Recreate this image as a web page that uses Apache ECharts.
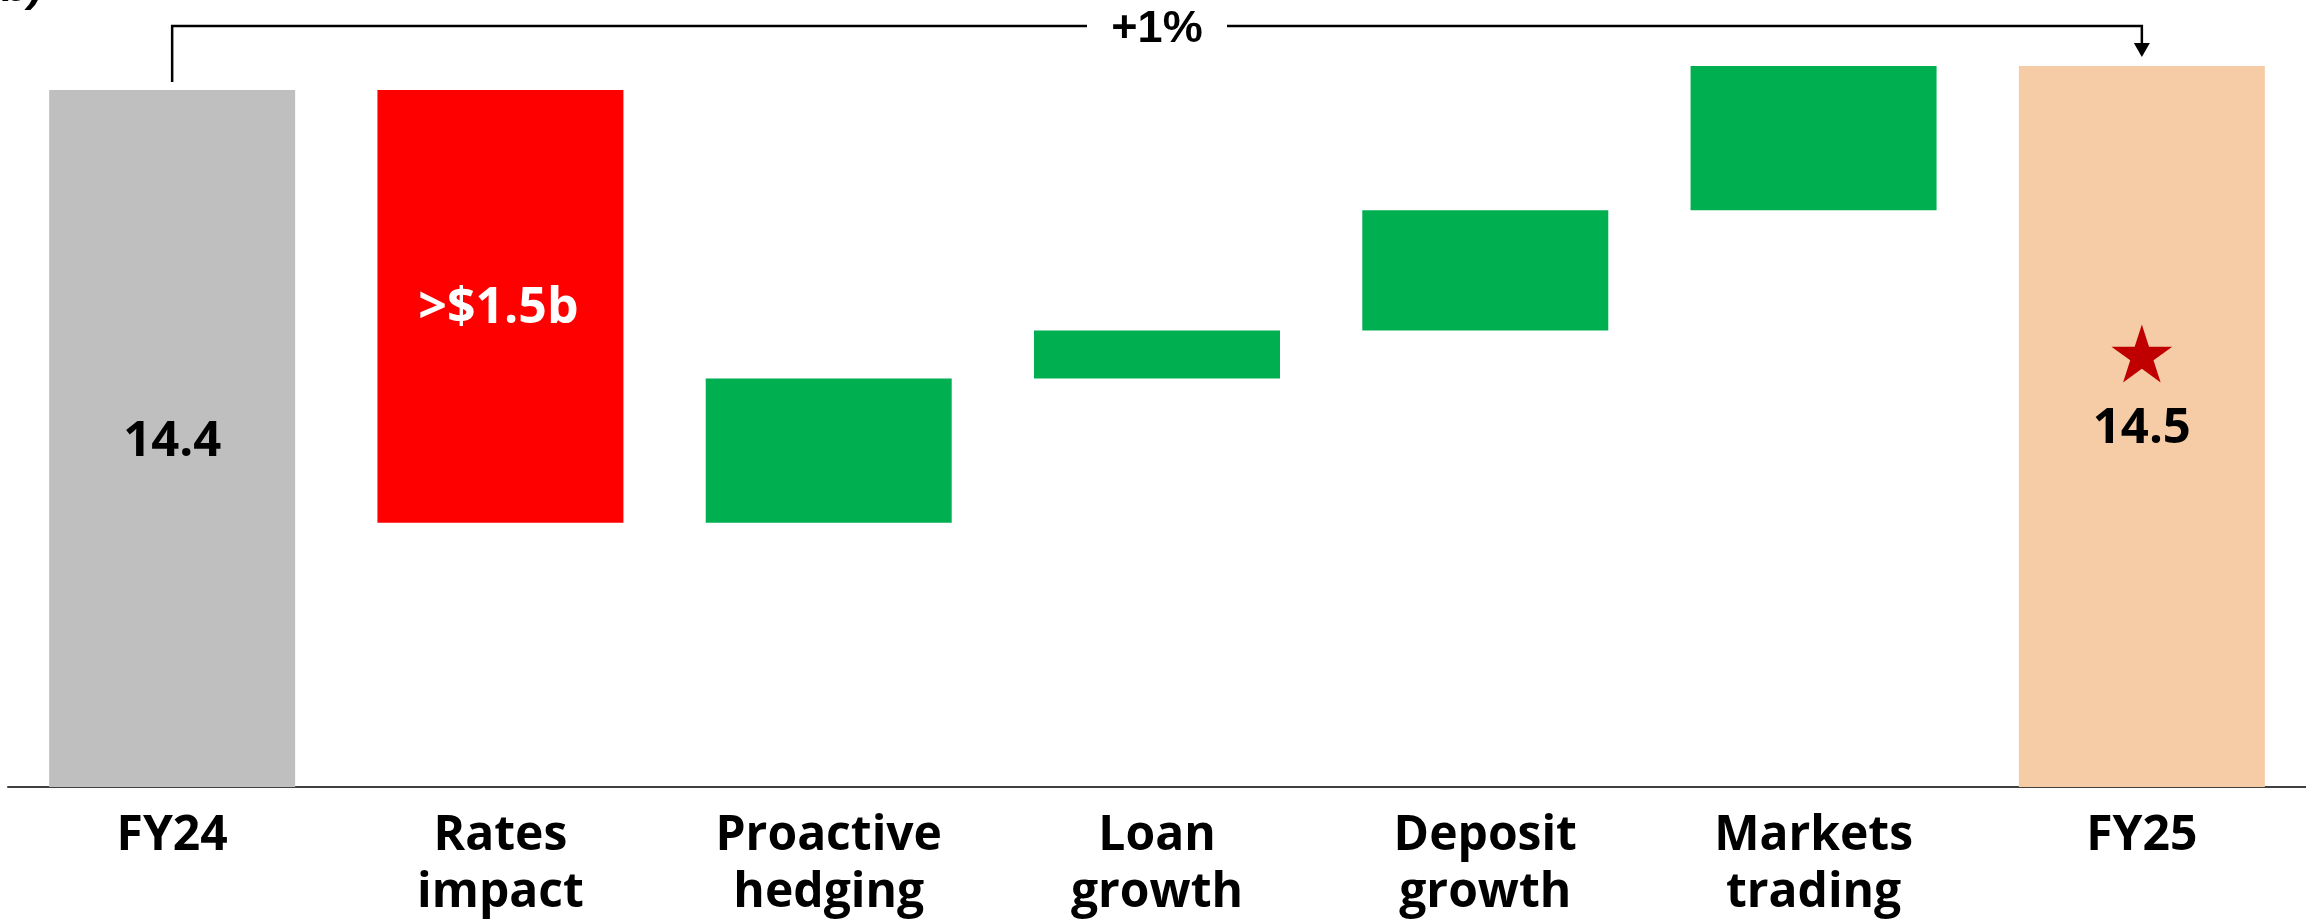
<!DOCTYPE html>
<html><head><meta charset="utf-8">
<script src="https://cdn.jsdelivr.net/npm/echarts@6/dist/echarts.min.js"></script>
<style>html,body{margin:0;padding:0;background:#fff}#c{width:2306px;height:923px}</style>
</head><body><div id="c"></div>
<script>
// ---- data ----
const categories = ['FY24', 'Rates\nimpact', 'Proactive\nhedging', 'Loan\ngrowth', 'Deposit\ngrowth', 'Markets\ntrading', 'FY25'];
const startTotal = 14.4;
const deltas = [-1.8, 0.6, 0.2, 0.5, 0.6];
const endTotal = 14.5;
const barLabels = ['14.4', '>$1.5b', '', '', '', '', '14.5'];
const changeLabel = '+1%';
const cornerText = '($b)';
const axisMin = 11.5, axisMax = 14.7;

// ---- build waterfall ----
const colTotal0 = '#BFBFBF', colNeg = '#FF0000', colPos = '#00B050', colTotal1 = '#F5CCA6';
const baseVals = [0], visVals = [startTotal], colors = [colTotal0];
let run = startTotal;
deltas.forEach(d => {
  if (d < 0) { run += d; baseVals.push(run); visVals.push(-d); colors.push(colNeg); }
  else { baseVals.push(run); visVals.push(d); run += d; colors.push(colPos); }
});
baseVals.push(0); visVals.push(endTotal); colors.push(colTotal1);

const numFont = "'Open Sans', 'Noto Sans', sans-serif";
const visData = visVals.map((v, i) => {
  const item = { value: v, itemStyle: { color: colors[i] } };
  if (barLabels[i]) {
    const neg = colors[i] === colNeg;
    item.label = {
      show: true, position: 'inside', formatter: barLabels[i],
      color: neg ? '#FFFFFF' : '#000000',
      fontFamily: numFont, fontWeight: 'bold', fontSize: neg ? 50 : 49,
      offset: neg ? [-2, 2] : [0, 3]
    };
  }
  return item;
});

const chart = echarts.init(document.getElementById('c'), null, { renderer: 'canvas' });
chart.setOption({
  animation: false,
  backgroundColor: '#ffffff',
  grid: { left: 8, right: 0, top: 18, bottom: 136, containLabel: false },
  xAxis: {
    type: 'category', data: categories,
    axisTick: { show: false },
    axisLine: { lineStyle: { color: '#404040', width: 2 } },
    axisLabel: {
      interval: 0, margin: 21, color: '#000',
      fontFamily: "'Open Sans', sans-serif",
      fontWeight: 'bold', fontSize: 48, lineHeight: 57
    }
  },
  yAxis: {
    type: 'value', min: axisMin, max: axisMax,
    show: false, splitLine: { show: false }
  },
  series: [
    { type: 'bar', stack: 'w', data: baseVals, barWidth: 246,
      itemStyle: { color: 'transparent' }, silent: true },
    { type: 'bar', stack: 'w', data: visData, barWidth: 246 }
  ]
});

// ---- annotations from the axis scales ----
const n = categories.length;
const p0 = chart.convertToPixel({ xAxisIndex: 0, yAxisIndex: 0 }, [0, startTotal]);
const p1 = chart.convertToPixel({ xAxisIndex: 0, yAxisIndex: 0 }, [n - 1, endTotal]);
const pMid = chart.convertToPixel({ xAxisIndex: 0, yAxisIndex: 0 }, [n - 1, (axisMin + endTotal) / 2]);
const yLine = p0[1] - 64;
const xMid = (p0[0] + p1[0]) / 2;
const gap = 70;
const lineStyle = { stroke: '#000', lineWidth: 2.5 };
const tipY = p1[1] - 9;

// star
const starCx = p1[0], starCy = pMid[1] - 70, R = 32, r = 32 * 0.382;
const starPts = [];
for (let k = 0; k < 10; k++) {
  const ang = -Math.PI / 2 + k * Math.PI / 5;
  const rad = k % 2 === 0 ? R : r;
  starPts.push([starCx + rad * Math.cos(ang), starCy + rad * Math.sin(ang)]);
}

chart.setOption({
  graphic: [
    { type: 'polyline', z: 100, shape: { points: [[p0[0], p0[1] - 8], [p0[0], yLine], [xMid - gap, yLine]] }, style: lineStyle },
    { type: 'polyline', z: 100, shape: { points: [[xMid + gap, yLine], [p1[0], yLine], [p1[0], tipY - 12]] }, style: lineStyle },
    { type: 'polygon', z: 100, shape: { points: [[p1[0] - 8, tipY - 14], [p1[0] + 8, tipY - 14], [p1[0], tipY]] }, style: { fill: '#000' } },
    { type: 'text', z: 100, x: xMid, y: yLine + 3, style: { text: changeLabel, fill: '#000', font: "bold 45px 'Liberation Sans', Arial, sans-serif", align: 'center', verticalAlign: 'middle' } },
    { type: 'polygon', z: 100, shape: { points: starPts }, style: { fill: '#C00000' } },
    { type: 'text', z: 100, x: 43, y: 11, style: { text: cornerText, fill: '#000', font: "italic bold 44px 'Liberation Sans', Arial, sans-serif", align: 'right', verticalAlign: 'bottom' } }
  ]
});
</script>
</body></html>
